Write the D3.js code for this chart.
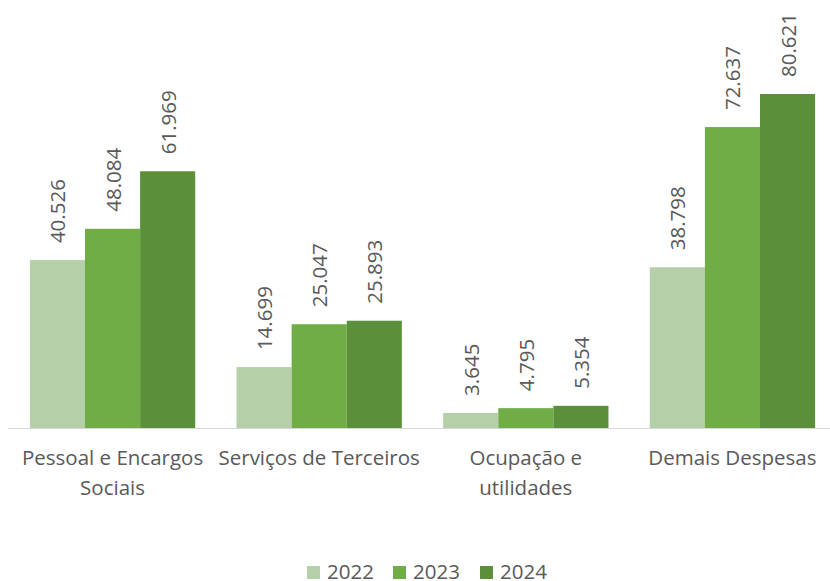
<!DOCTYPE html>
<html>
<head>
<meta charset="utf-8">
<script src="https://cdn.jsdelivr.net/npm/d3@7"></script>
<style>
  body { margin: 0; background: #fff; }
  text { font-family: "Open Sans", sans-serif; fill: #595959; }
</style>
</head>
<body>
<div id="chart"></div>
<script>
// Data
var categories = [['Pessoal e Encargos', 'Sociais'], ['Serviços de Terceiros'], ['Ocupação e', 'utilidades'], ['Demais Despesas']];
var years = ['2022', '2023', '2024'];
var values_2022 = [40.526, 14.699, 3.645, 38.798];
var values_2023 = [48.084, 25.047, 4.795, 72.637];
var values_2024 = [61.969, 25.893, 5.354, 80.621];
var colors = ['#b5cfa8', '#70ad47', '#5b8f3a'];

var chart_width  = 830;
var chart_height = 581;
var base_y = 428;

var series = [values_2022, values_2023, values_2024];

var svg = d3.select('#chart')
	.append('svg')
	.attr('width', chart_width)
	.attr('height', chart_height);

// groups every ~207px, bars 55px wide
var x = d3.scaleBand()
	.domain(d3.range(categories.length))
	.range([8, 837])
	.paddingInner(0.2)
	.paddingOuter(0.106);

var x_inner = d3.scaleBand()
	.domain(years)
	.range([0, x.bandwidth()]);

var y = d3.scaleLinear()
	.domain([0, 80.621])
	.range([base_y, 94]);

// bars
var groups = svg.selectAll('g.group')
	.data(categories)
	.enter()
	.append('g')
	.attr('class', 'group')
	.attr('transform', function(d, i){ return 'translate(' + x(i) + ',0)'; });

groups.each(function(cat, ci){
	var g = d3.select(this);
	years.forEach(function(yr, si){
		var v = series[si][ci];
		g.append('rect')
			.attr('x', x_inner(yr))
			.attr('y', y(v))
			.attr('width', x_inner.bandwidth())
			.attr('height', y(0) - y(v))
			.attr('fill', colors[si]);
		var cx = x_inner(yr) + x_inner.bandwidth() / 2 + 8;
		var cy = y(v) - 17;
		g.append('text')
			.attr('transform', 'translate(' + cx + ',' + cy + ') rotate(-90)')
			.attr('font-size', 20.5)
			.text(d3.format('.3f')(v));
	});
});

// axis line
svg.append('line')
	.attr('x1', 8).attr('x2', 830)
	.attr('y1', base_y + 0.5).attr('y2', base_y + 0.5)
	.attr('stroke', '#d9d9d9')
	.attr('stroke-width', 1);

// category labels
svg.selectAll('text.cat')
	.data(categories)
	.enter()
	.append('text')
	.attr('class', 'cat')
	.attr('text-anchor', 'middle')
	.attr('font-size', 20.5)
	.each(function(d, i){
		var t = d3.select(this);
		d.forEach(function(line, li){
			t.append('tspan')
				.attr('x', x(i) + x.bandwidth() / 2)
				.attr('y', 465 + li * 30)
				.text(line);
		});
	});

// legend
var legend_x = [307, 393, 480];
var legend = svg.selectAll('g.legend')
	.data(years)
	.enter()
	.append('g')
	.attr('class', 'legend')
	.attr('transform', function(d, i){ return 'translate(' + legend_x[i] + ',566)'; });

legend.append('rect')
	.attr('width', 13).attr('height', 13)
	.attr('fill', function(d, i){ return colors[i]; });

legend.append('text')
	.attr('x', 20).attr('y', 13)
	.attr('font-size', 20.5)
	.text(function(d){ return d; });
</script>
</body>
</html>
